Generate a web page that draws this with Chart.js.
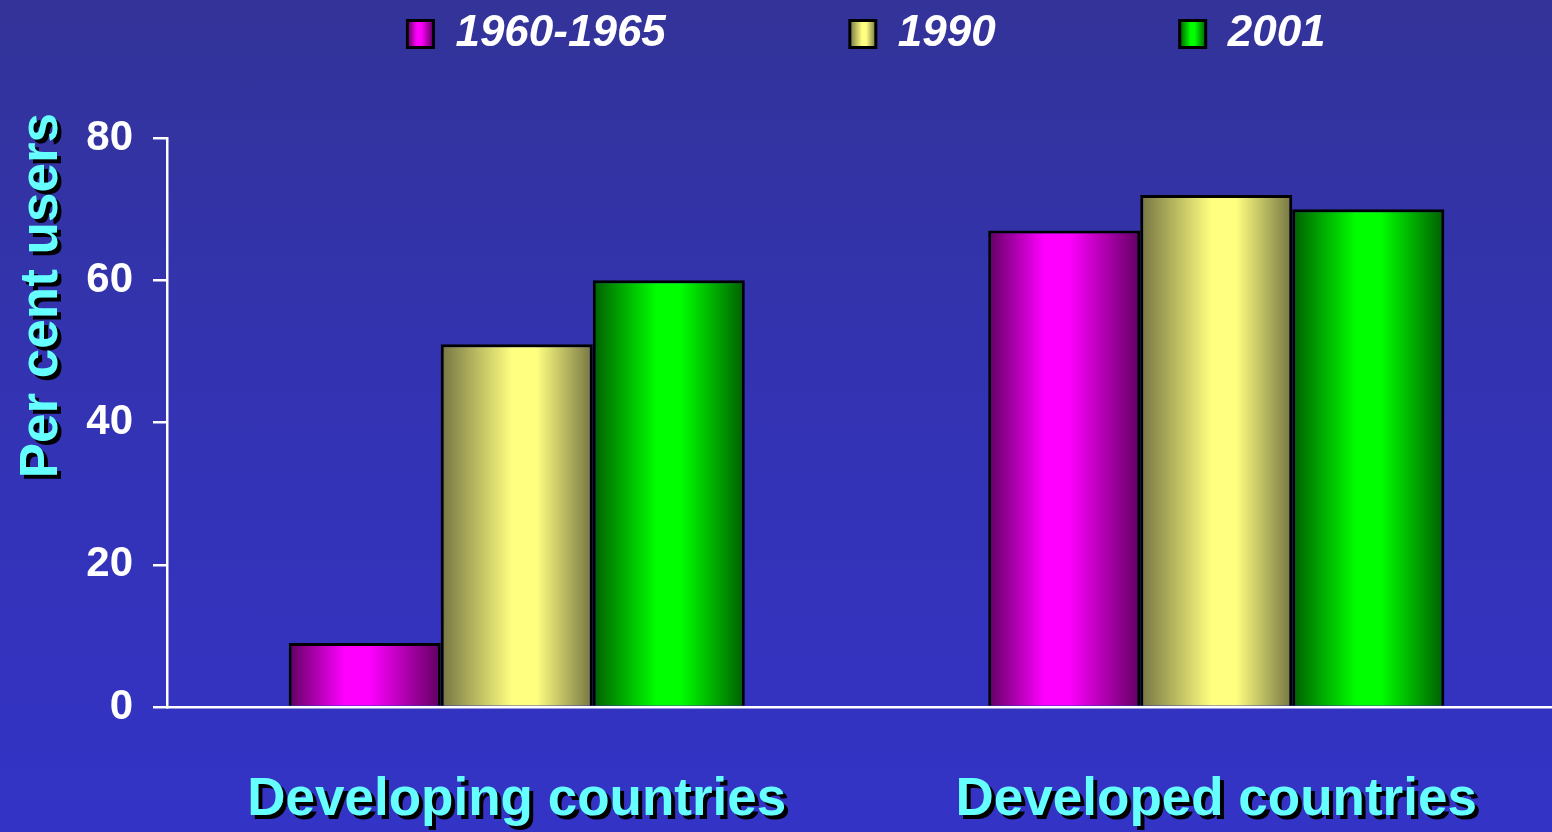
<!DOCTYPE html>
<html>
<head>
<meta charset="utf-8">
<script src="https://cdn.jsdelivr.net/npm/chart.js@4.4.1/dist/chart.umd.min.js"></script>
<style>
html, body { margin: 0; padding: 0; overflow: hidden; width: 1552px; height: 832px; }
body { background: linear-gradient(to bottom, #333399 0%, #3333b4 50%, #3333c6 100%); }
canvas { display: block; }
</style>
</head>
<body>
<canvas id="c" width="1566" height="832"></canvas>
<script>
// ---- data ----
const categories = ['Developing countries', 'Developed countries'];
const seriesNames = ['1960-1965', '1990', '2001'];
const values1960 = [9, 67];
const values1990 = [51, 72];
const values2001 = [60, 70];
const yTicks = [0, 20, 40, 60, 80];
const yTitle = 'Per cent users';

// ---- styles ----
const CYAN = '#66ffff';
const CAT_PCT = 0.652;
const shades = [
  { dark: '#600060', light: '#ff00ff', peak: 0.45 },
  { dark: '#747442', light: '#ffff80', peak: 0.55 },
  { dark: '#005e00', light: '#00ff00', peak: 0.5 }
];

function makeGrad(ctx, si, x0, x1) {
  const s = shades[si];
  if (!isFinite(x0) || !isFinite(x1) || x1 <= x0) return s.light;
  const g = ctx.createLinearGradient(x0, 0, x1, 0);
  g.addColorStop(0, s.dark);
  g.addColorStop(Math.max(0, s.peak - 0.08), s.light);
  g.addColorStop(Math.min(1, s.peak + 0.08), s.light);
  g.addColorStop(1, s.dark);
  return g;
}

function barFill(si) {
  return (c) => {
    const chart = c.chart;
    if (c.type !== 'data' || !chart.scales || !chart.scales.x) return shades[si].light;
    const xs = chart.scales.x;
    const center = xs.getPixelForValue(c.dataIndex);
    const catW = xs.width / categories.length;
    const groupW = catW * CAT_PCT;
    const barW = groupW / seriesNames.length;
    const x0 = center - groupW / 2 + si * barW;
    return makeGrad(chart.ctx, si, x0, x0 + barW);
  };
}

function withShadow(ctx, fn, dy) {
  ctx.save();
  ctx.shadowColor = '#000000';
  ctx.shadowOffsetX = 4;
  ctx.shadowOffsetY = 4;
  ctx.shadowBlur = 0;
  if (dy) ctx.translate(0, dy);
  fn();
  ctx.restore();
}

const decor = {
  id: 'decor',
  beforeDraw(chart) {
    const ctx = chart.ctx;
    const lg = chart.legend;
    if (lg && lg.legendItems && lg.legendHitBoxes) {
      lg.legendItems.forEach((it, i) => {
        const hb = lg.legendHitBoxes[i];
        if (!hb) return;
        it.fillStyle = makeGrad(ctx, it.datasetIndex, hb.left, hb.left + lg.options.labels.boxWidth);
      });
      if (!lg.$wrapped) {
        const origL = lg.draw;
        lg.draw = function () {
          const c = this.ctx;
          c.save();
          c.translate(0, -72);
          origL.apply(this, arguments);
          c.restore();
        };
        lg.$wrapped = true;
      }
    }
    const ys = chart.scales.y, xs = chart.scales.x;
    if (ys && !ys.$wrapped) {
      const orig = ys.drawTitle;
      ys.drawTitle = function () { const a = arguments; withShadow(this.ctx, () => orig.apply(this, a), -25); };
      ys.$wrapped = true;
    }
    if (xs && !xs.$wrapped) {
      const orig = xs.drawLabels;
      xs.drawLabels = function () { const a = arguments; withShadow(this.ctx, () => orig.apply(this, a), 0); };
      xs.$wrapped = true;
    }
  }
};

Chart.defaults.font.family = "'Liberation Sans', Arial, Helvetica, sans-serif";

const seriesValues = [values1960, values1990, values2001];

new Chart(document.getElementById('c'), {
  type: 'bar',
  data: {
    labels: categories,
    datasets: seriesNames.map((name, i) => ({
      label: name,
      data: seriesValues[i],
      backgroundColor: barFill(i),
      borderColor: '#000000',
      borderWidth: 3,
      borderSkipped: 'bottom',
      categoryPercentage: CAT_PCT,
      barPercentage: 1.0
    }))
  },
  options: {
    responsive: false,
    animation: false,
    events: [],
    layout: { padding: { top: -100, left: 0, right: 0, bottom: 0 } },
    plugins: {
      tooltip: { enabled: false },
      legend: {
        position: 'top',
        fullSize: false,
        labels: {
          color: '#ffffff',
          font: { size: 44, style: 'italic', weight: 'bold' },
          boxWidth: 26,
          boxHeight: 27,
          padding: 184
        }
      }
    },
    scales: {
      x: {
        grid: { display: false, drawTicks: false },
        border: { display: true, color: '#ffffff', width: 2.5 },
        ticks: { color: CYAN, font: { size: 53, weight: 'bold' }, padding: 62, maxRotation: 0 },
        afterFit(s) { s.height = 125; }
      },
      y: {
        min: yTicks[0],
        max: yTicks[yTicks.length - 1],
        ticks: { stepSize: yTicks[1] - yTicks[0], color: '#ffffff', font: { size: 42, weight: 'bold' }, padding: 20 },
        grid: { drawOnChartArea: false, color: '#ffffff', lineWidth: 2.5, tickLength: 14 },
        border: { display: true, color: '#ffffff', width: 2.5 },
        title: {
          display: true,
          text: yTitle,
          color: CYAN,
          align: 'end',
          font: { size: 53, weight: 'bold' },
          padding: { top: 11, bottom: 0 }
        },
        afterFit(s) { s.width = 167; s.paddingTop = 138; }
      }
    }
  },
  plugins: [decor]
});
</script>
</body>
</html>
